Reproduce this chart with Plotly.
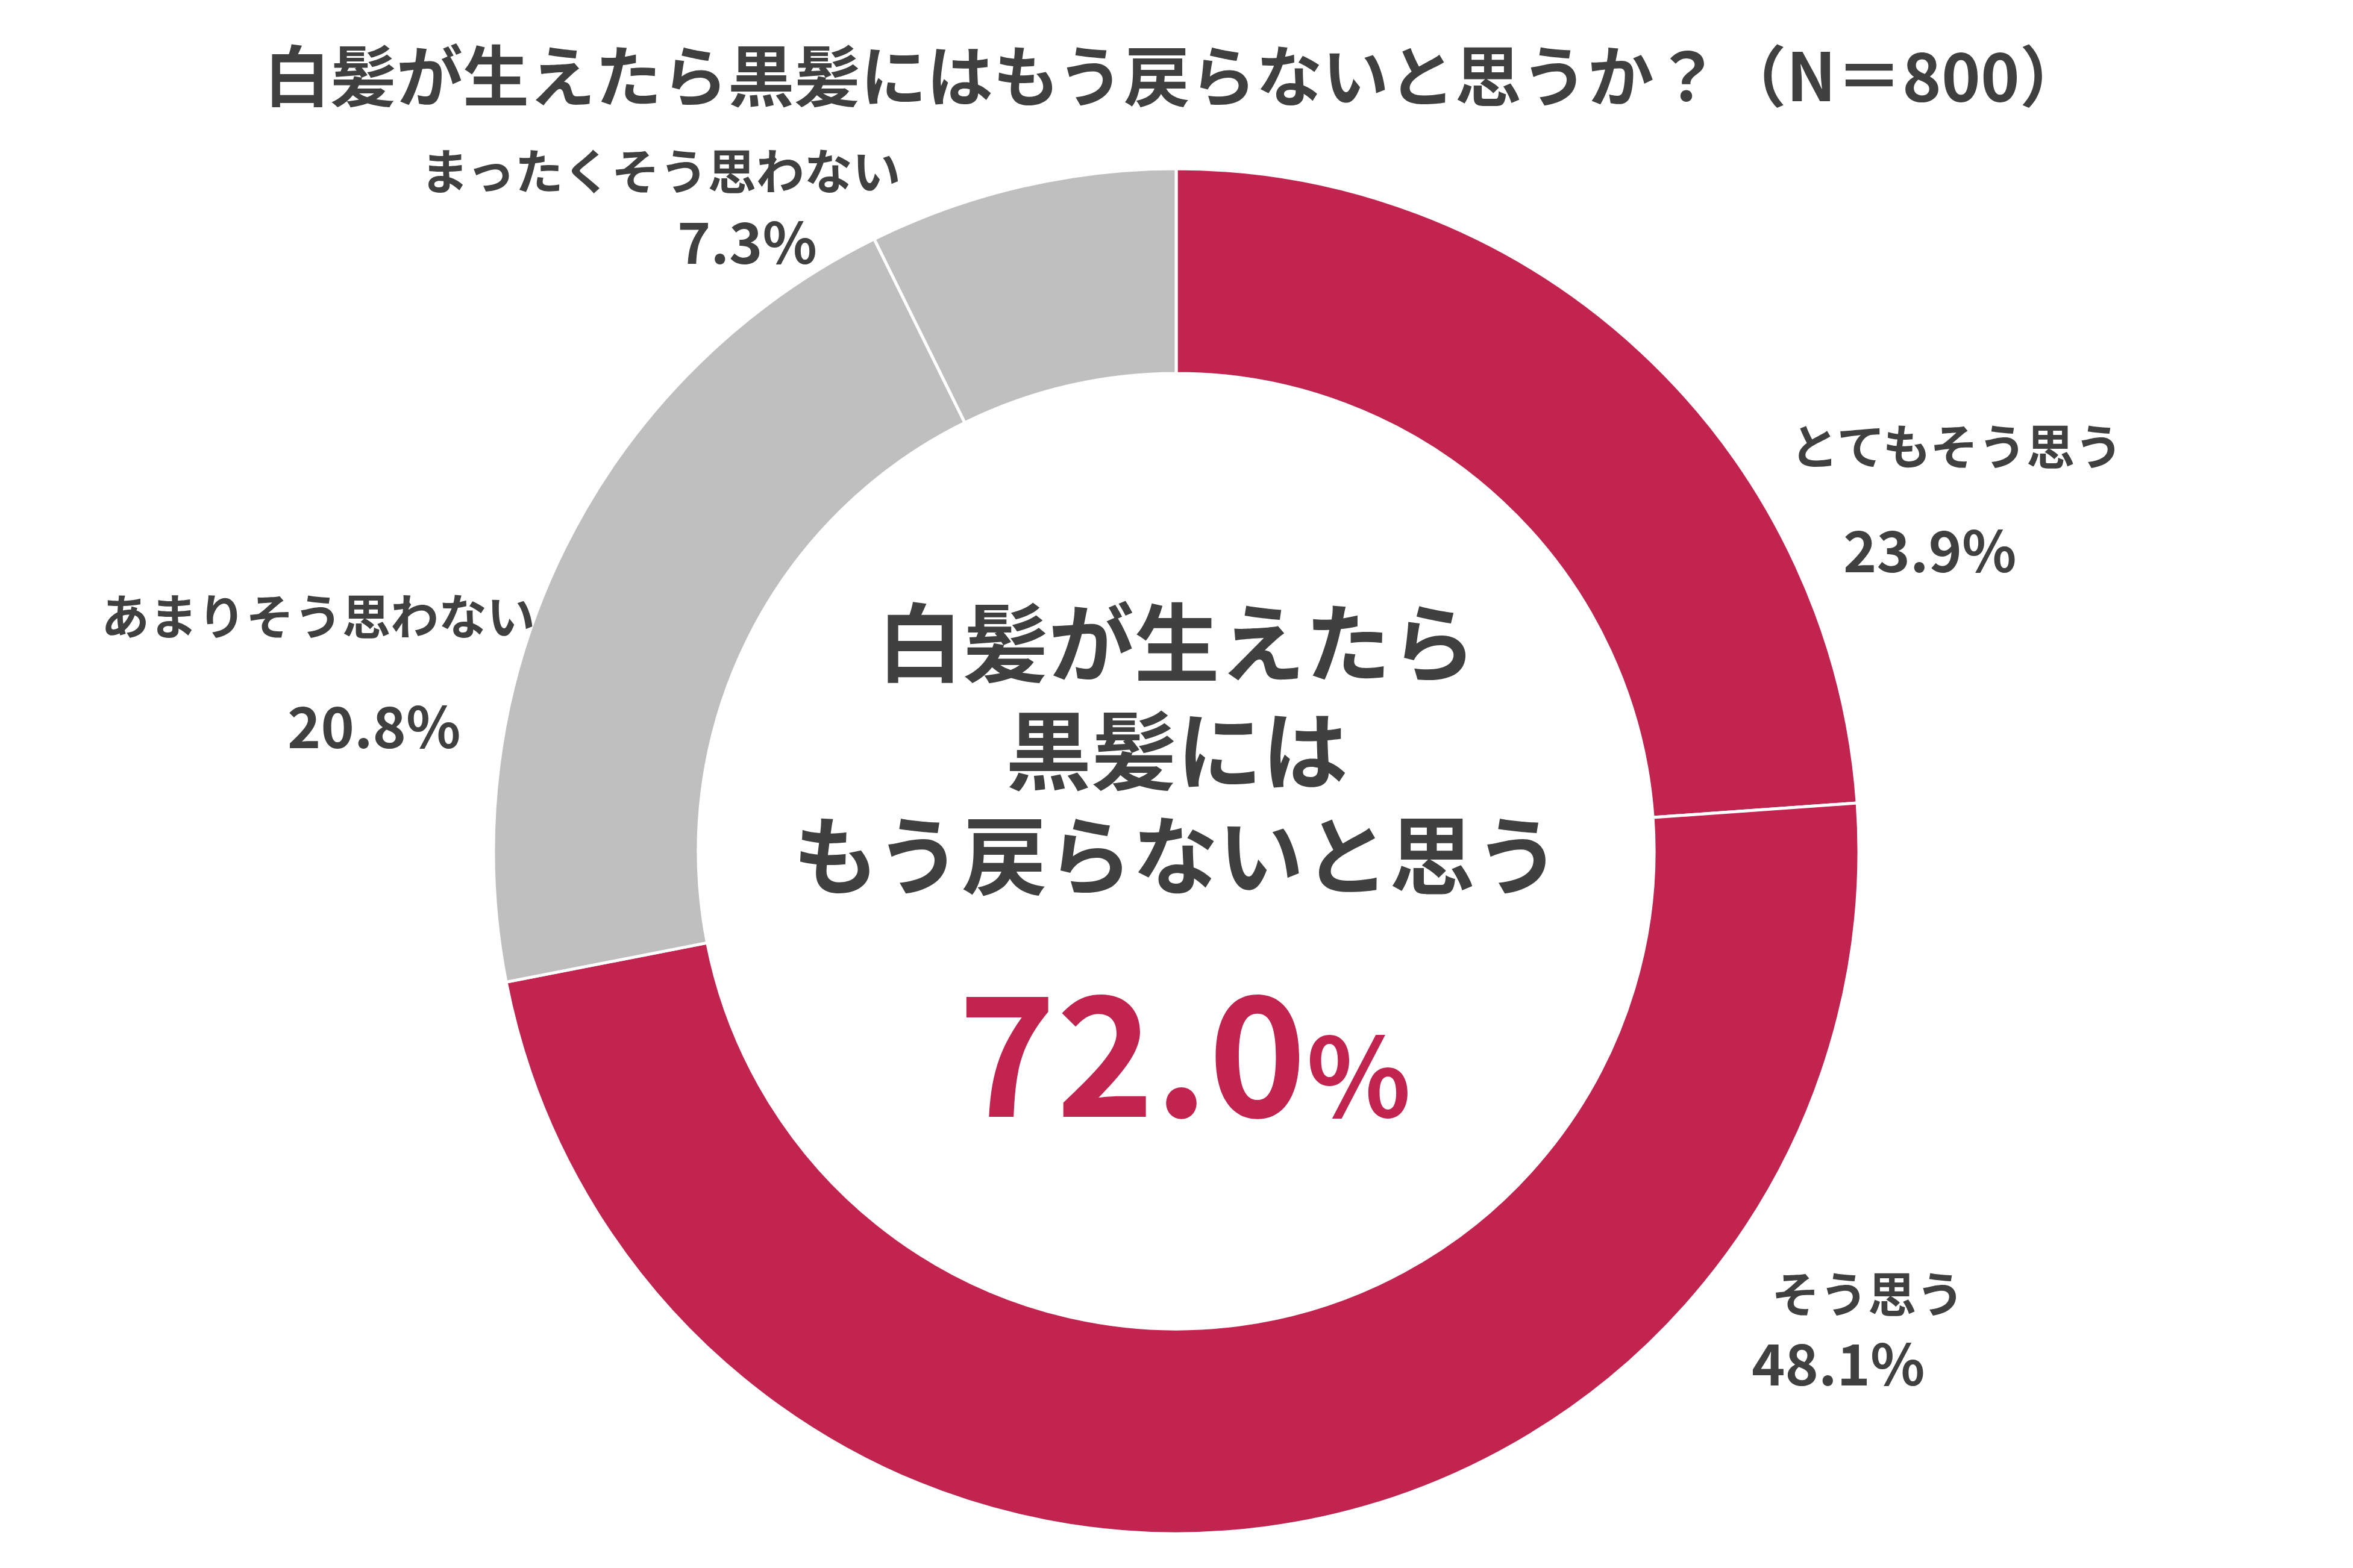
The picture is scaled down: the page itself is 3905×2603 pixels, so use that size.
import plotly.graph_objects as go

# ---- data ----
categories = ["とてもそう思う", "そう思う", "あまりそう思わない", "まったくそう思わない"]
values = [23.9, 48.1, 20.8, 7.3]
colors = ["#C1244F", "#C1244F", "#BFBFBF", "#BFBFBF"]
title_text = "白髪が生えたら黒髪にはもう戻らないと思うか？（N＝800）"
center_lines = ["白髪が生えたら", "黒髪には", "もう戻らないと思う"]
center_value = "72.0"

W, H = 3905, 2603
FONT = "Noto Sans CJK JP"
TXT = "#404040"

fig = go.Figure()
fig.add_trace(go.Pie(
    labels=categories,
    values=values,
    sort=False,
    direction="clockwise",
    rotation=0,
    hole=0.70,
    marker=dict(colors=colors, line=dict(color="white", width=5)),
    textinfo="none",
    hoverinfo="label+percent",
    showlegend=False,
    domain=dict(x=[819 / W, 3085 / W], y=[57 / H, 2323 / H]),
))

def px(x):
    return x / W

def py(y):
    return 1 - y / H

ann = []
def add(text, x, y, size, color=TXT, xanchor="center", height=None):
    d = dict(text=text, x=px(x), y=py(y), xref="paper", yref="paper",
             xanchor=xanchor, yanchor="middle", showarrow=False,
             font=dict(family=FONT, size=size, color=color, weight=700))
    if height is not None:
        d["height"] = height
    ann.append(d)

# title
add(title_text, 1950, 120, 110)

# slice labels (name + percentage)
label_pos = [
    ((3247, 736), (3202, 909)),
    ((3100, 2143), (3050, 2259)),
    ((528, 1018), (620, 1201)),
    ((1096, 279), (1240, 397)),
]
for cat, val, (lp, vp) in zip(categories, values, label_pos):
    add(cat, lp[0], lp[1], 80)
    add(f"{val:.1f}%", vp[0], vp[1], 94)

# center text, three lines
for line, yy in zip(center_lines, [1059, 1238, 1412]):
    add(line, 1953, yy, 142, height=166)

ann.append(dict(
    text=f'{center_value}<span style="font-size:180px">%</span>',
    x=px(1966), y=py(1733), xref="paper", yref="paper",
    xanchor="center", yanchor="middle", showarrow=False,
    font=dict(family=FONT, size=276, color="#C1244F", weight=700)))

fig.update_layout(
    width=W, height=H,
    margin=dict(l=0, r=0, t=0, b=0),
    paper_bgcolor="white", plot_bgcolor="white",
    annotations=ann,
)

fig.write_html("out.html", config={"displayModeBar": False},
               post_script="document.body.style.margin='0';")
